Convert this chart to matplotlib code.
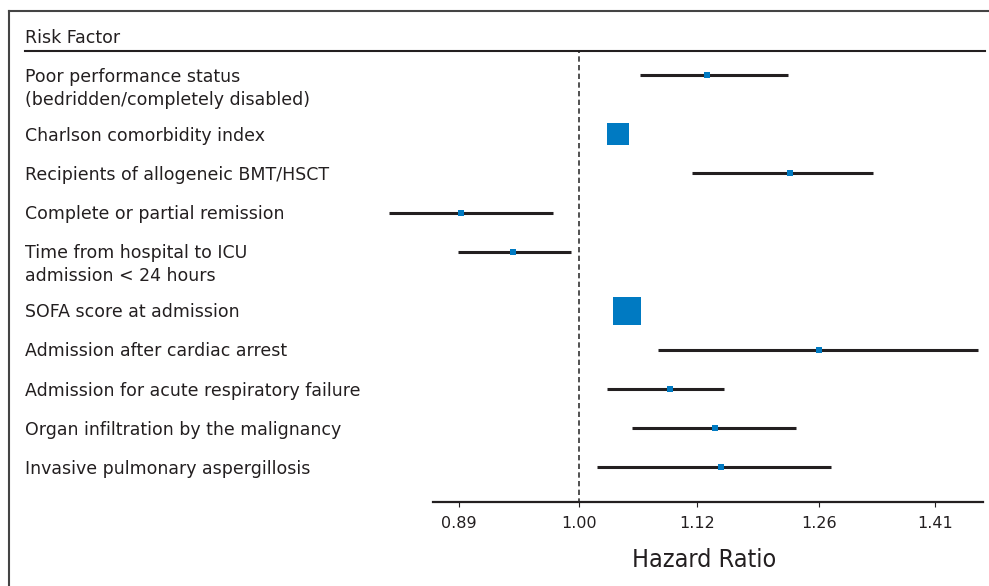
import matplotlib
matplotlib.use("Agg")
import matplotlib.pyplot as plt
import matplotlib.transforms as mtransforms
from matplotlib.lines import Line2D
from matplotlib.ticker import NullLocator
import numpy as np

# risk factors, top to bottom
factors = [
    "Poor performance status\n(bedridden/completely disabled)",
    "Charlson comorbidity index",
    "Recipients of allogeneic BMT/HSCT",
    "Complete or partial remission",
    "Time from hospital to ICU\nadmission < 24 hours",
    "SOFA score at admission",
    "Admission after cardiac arrest",
    "Admission for acute respiratory failure",
    "Organ infiltration by the malignancy",
    "Invasive pulmonary aspergillosis",
]
hr = [1.131, 1.038, 1.226, 0.892, 0.938, 1.047, 1.261, 1.091, 1.140, 1.147]
ci_low = [1.060, 1.031, 1.115, 0.832, 0.889, 1.041, 1.079, 1.027, 1.052, 1.017]
ci_high = [1.223, 1.045, 1.328, 0.975, 0.992, 1.053, 1.470, 1.150, 1.233, 1.275]
weight = [1, 3.7, 1, 1, 1, 4.8, 1, 1, 1, 1]
ticks = [0.89, 1.00, 1.12, 1.26, 1.41]

dark = "#231f20"
blue = "#007ac2"
plt.rcParams["font.family"] = ["DejaVu Sans"]

W, H = 989, 586
fig = plt.figure(figsize=(W / 100, H / 100), dpi=100)
ax = fig.add_axes([433 / W, 84 / H, 550 / W, 451 / H])

# rows with two-line labels take half a row extra
nlines = [f.count("\n") + 1 for f in factors]
ypos = np.concatenate([[0], np.cumsum([1 + 0.5 * (n - 1) for n in nlines[:-1]])])

ax.set_xscale("log")
ax.set_xlim(0.868, 1.477)
ax.set_ylim(10.885, -0.62)

ci = ax.hlines(ypos, ci_low, ci_high, color=dark, lw=2.2, zorder=2)
ci.set_clip_on(False)
for y, v, w in zip(ypos, hr, weight):
    ax.plot(v, y, marker="s", ms=6 * w * 0.72, color=blue, mew=0, zorder=3,
            clip_on=False)

ax.axvline(1.0, color="#333333", lw=1.2, ls=(1.0, (3.2, 2.0)), zorder=1)

for s in ["top", "left", "right"]:
    ax.spines[s].set_visible(False)
ax.spines["bottom"].set_linewidth(1.6)
ax.spines["bottom"].set_color(dark)
ax.set_yticks([])
ax.set_xticks(ticks)
ax.set_xticklabels([f"{t:.2f}" for t in ticks])
ax.xaxis.set_minor_locator(NullLocator())
ax.tick_params(axis="x", length=3.8, width=0.8, pad=6, labelsize=11.5,
               colors=dark)

ax.set_xlabel("Hazard Ratio", family=["Liberation Sans Narrow", "DejaVu Sans"],
              fontstretch="condensed", fontsize=18, color=dark)
ax.xaxis.label.set_verticalalignment("center")
ax.xaxis.set_label_coords(0.4927, -0.1275)

# row labels on the left, first line level with the estimate
trans = mtransforms.blended_transform_factory(fig.transFigure, ax.transData)
for y, lab in zip(ypos, factors):
    for i, line in enumerate(lab.split("\n")):
        ax.annotate(line, xy=(25 / W, y), xycoords=trans,
                    xytext=(0, -4.8 - 16.6 * i), textcoords="offset points",
                    ha="left", va="baseline", fontsize=12.5, color=dark,
                    annotation_clip=False)

fig.text(25 / W, 1 - 43.3 / H, "Risk Factor", ha="left", va="baseline",
         fontsize=12.5, color=dark)

# outer frame and header rule
fig.add_artist(Line2D([9 / W, 9 / W], [0, 1 - 11 / H], color="#444444", lw=1.5))
fig.add_artist(Line2D([9 / W, 1], [1 - 11 / H, 1 - 11 / H], color="#444444", lw=1.5))
fig.add_artist(Line2D([25 / W, 985 / W], [1 - 51 / H, 1 - 51 / H], color=dark, lw=1.5))

fig.savefig("out.png", dpi=100, facecolor="white")
